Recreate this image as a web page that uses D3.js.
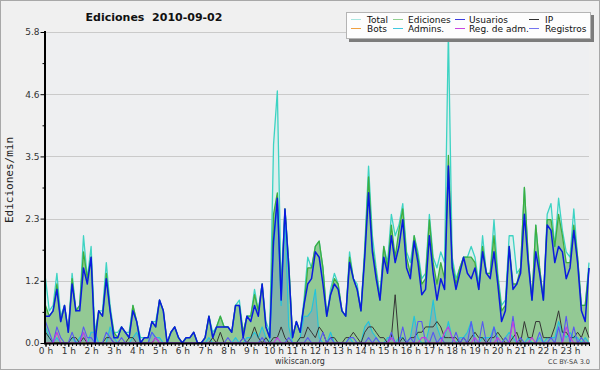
<!DOCTYPE html>
<html><head><meta charset="utf-8">
<script src="https://cdn.jsdelivr.net/npm/d3@7"></script>
<style>html,body{margin:0;padding:0;background:#f0f0f0;} svg{display:block}</style>
</head><body>
<svg id="c" width="600" height="370"></svg>
<script>
const titleText = "Ediciones  2010-09-02";
const yLabelText = "Ediciones/min";
const yMax = 5.8;
const yTickValues = [0, 1.16, 2.32, 3.48, 4.64, 5.8];
const yTickLabels = ["0.0", "1.2", "2.3", "3.5", "4.6", "5.8"];
const hourLabels = ["0 h","1 h","2 h","3 h","4 h","5 h","6 h","7 h","8 h","9 h","10 h","11 h",
  "12 h","13 h","14 h","15 h","16 h","17 h","18 h","19 h","20 h","21 h","22 h","23 h"];
const legendNames = ["Total","Ediciones","Usuarios","IP","Bots","Admins.","Reg. de adm.","Registros"];

// 144 ten-minute slots, edits per minute
const total = [
 1.2,0.6,0.7,1.3,0.5,0.7, 0.2,1.3,0.6,0.7,2.0,1.2, 1.8,0.2,0.6,0.6,1.5,0.7, 0.2,0.2,0.3,0.2,0.2,0.7,
 0.4,0.1,0.1,0.1,0.4,0.4, 0.8,0.6,0.0,0.2,0.3,0.1, 0.0,0.1,0.1,0.2,0.0,0.0, 0.1,0.5,0.2,0.3,0.5,0.3,
 0.3,0.2,0.7,0.8,0.2,0.5, 0.5,1.0,0.6,1.1,0.4,0.2, 3.7,4.7,1.0,2.5,1.5,0.1, 0.4,0.2,0.8,1.6,1.4,1.8,
 1.9,1.4,0.5,1.0,1.3,1.1, 0.6,0.5,1.7,1.2,1.1,0.6, 1.8,3.3,2.0,1.4,0.9,1.8, 1.5,2.4,2.0,2.2,2.6,1.7,
 1.5,2.0,1.7,1.2,1.3,2.4, 1.6,1.4,1.7,1.5,5.8,1.6, 1.2,1.4,1.6,1.6,1.8,1.6, 1.1,2.0,1.3,1.3,2.3,1.3,
 0.7,0.8,2.0,2.0,1.3,1.4, 2.9,1.6,0.8,2.2,1.4,0.8, 2.4,2.6,1.8,2.7,2.1,1.7, 1.6,2.5,1.6,0.7,0.7,1.5];
const ediciones = [
 0.7,0.5,0.6,1.1,0.4,0.7, 0.2,1.2,0.6,0.7,1.7,1.2, 1.6,0.1,0.6,0.5,1.3,0.6, 0.2,0.1,0.3,0.2,0.1,0.7,
 0.4,0.0,0.1,0.1,0.4,0.3, 0.8,0.6,0.0,0.2,0.3,0.1, 0.0,0.1,0.1,0.2,0.0,0.0, 0.1,0.5,0.1,0.3,0.5,0.3,
 0.3,0.2,0.7,0.7,0.2,0.5, 0.5,0.9,0.6,1.1,0.3,0.1, 2.4,2.8,0.9,2.5,1.5,0.1, 0.4,0.2,0.7,1.4,1.4,1.8,
 1.9,1.4,0.5,0.9,1.2,1.1, 0.6,0.5,1.6,1.2,1.0,0.6, 1.7,3.1,1.8,1.3,0.8,1.8, 1.4,2.2,1.6,2.1,2.5,1.6,
 1.3,2.0,1.6,1.1,1.2,2.3, 1.5,1.1,1.5,1.2,3.5,1.5, 1.1,1.4,1.6,1.6,1.6,1.5, 1.0,1.8,1.3,1.3,2.0,1.2,
 0.6,0.7,1.8,1.1,1.1,1.4, 2.9,1.6,0.8,2.2,1.4,0.8, 2.3,2.3,1.8,2.4,2.0,1.5, 1.5,2.2,1.6,0.7,0.7,1.4];
const usuarios = [
 0.5,0.5,0.6,1.0,0.4,0.7, 0.2,1.1,0.6,0.6,1.4,1.1, 1.6,0.0,0.6,0.5,1.2,0.6, 0.1,0.1,0.3,0.2,0.1,0.6,
 0.4,0.0,0.1,0.1,0.4,0.3, 0.8,0.6,0.0,0.2,0.3,0.1, 0.0,0.1,0.1,0.2,0.0,0.0, 0.1,0.5,0.1,0.3,0.3,0.3,
 0.3,0.2,0.7,0.7,0.1,0.5, 0.4,0.7,0.5,1.1,0.3,0.1, 1.9,2.7,0.8,2.5,1.4,0.1, 0.4,0.2,0.7,1.1,1.2,1.7,
 1.6,1.1,0.5,0.9,1.1,1.0, 0.6,0.5,1.5,1.2,1.0,0.6, 1.6,2.8,1.7,1.2,0.8,1.6, 1.3,2.0,1.5,1.8,2.3,1.4,
 1.2,1.9,1.5,0.9,1.0,2.0, 1.3,0.8,1.2,1.0,3.3,1.4, 1.0,1.3,1.6,1.3,1.2,1.4, 1.0,1.7,1.3,1.2,1.7,1.1,
 0.4,0.6,1.8,1.0,1.1,1.3, 2.4,1.5,0.8,1.7,1.3,0.8, 2.2,2.1,1.5,1.8,1.7,1.2, 1.4,2.1,1.5,0.6,0.4,1.4];
const ip = [
 0.2,0.1,0,0,0,0, 0,0.1,0.1,0,0.1,0, 0,0,0,0,0.1,0.1, 0,0,0,0,0.1,0.1,
 0,0,0,0,0,0.1, 0,0,0,0,0,0, 0,0,0,0,0,0, 0,0,0.1,0,0.2,0,
 0,0,0,0,0.1,0, 0.1,0.3,0.1,0,0.1,0, 0.1,0.1,0.3,0.1,0,0, 0,0.1,0.1,0.3,0.2,0.1,
 0.3,0.2,0,0.1,0.1,0, 0,0.1,0.1,0.2,0.1,0, 0.2,0.3,0.3,0.2,0.1,0.1, 0,0.1,0.9,0,0.1,0,
 0.1,0.1,0.2,0.2,0.3,0.3, 0.3,0.4,0.3,0.1,0.1,0.1, 0.1,0,0.1,0,0.1,0.2, 0.1,0.1,0,0.1,0.1,0.2,
 0.1,0,0,0.1,0.2,0, 0.4,0.1,0.1,0.4,0.4,0.1, 0.1,0.1,0.3,0.6,0.2,0.2, 0.1,0.1,0.2,0.1,0.3,0.1];
const bots = [
 0,0,0,0,0,0, 0,0,0,0,0,0, 0,0,0,0,0,0, 0,0,0,0,0,0,
 0,0,0,0,0,0, 0,0,0,0,0,0, 0,0,0,0,0,0, 0,0,0,0,0,0,
 0,0,0,0,0,0, 0,0,0,0,0,0, 0,0,0,0,0,0, 0,0,0,0,0,0,
 0,0,0,0,0,0, 0,0,0,0,0,0, 0,0,0,0,0,0, 0,0,0,0,0,0,
 0,0,0,0,0,0, 0,0,0,0,0,0, 0,0,0,0,0,0, 0,0,0,0,0,0,
 0,0,0,0,0,0, 0,0,0,0,0,0, 0,0,0,0,0,0, 0,0,0,0,0,0];
const admins = [
 0.3,0.1,0,0.1,0,0, 0,0.1,0,0.1,0.2,0, 0.2,0.2,0,0,0,0.3, 0.1,0,0,0,0,0.1,
 0.2,0,0,0,0.2,0.1, 0.1,0,0,0,0,0, 0,0,0,0,0,0, 0,0.1,0,0,0,0,
 0,0,0.1,0,0,0.1, 0.1,0.2,0.1,0.3,0.1,0, 1.8,2.6,0.7,2.4,0.3,0, 0,0.1,0.5,0.5,0.6,1.0,
 0.1,0,0,0.2,0,0, 0,0,0.1,0,0,0, 0.3,0.4,0.2,0.1,0,0, 0.1,0.1,0,0.1,0.1,0,
 0.1,0.5,0.1,0,0,0.3, 0.8,0.3,0.1,0.1,0.4,0.1, 0,0.1,0.1,0.2,0.4,0.1, 0,0.1,0.1,0.1,0.3,0.1,
 0,0.1,0.2,0.1,0,0, 0,0.1,0,0,0.1,0, 0.1,0.1,0.1,0.4,0.2,0.1, 0.2,0.1,0.1,0,0.1,0];
const regAdm = [
 0,0,0,0.2,0,0, 0,0,0,0,0.2,0, 0,0,0,0,0,0, 0,0,0,0,0,0,
 0,0,0,0,0,0.1, 0,0,0,0,0,0, 0,0,0,0,0,0, 0,0,0,0,0,0,
 0,0,0,0,0,0, 0,0,0,0,0,0, 0,0.1,0,0,0,0, 0,0,0,0,0,0,
 0,0,0,0,0,0, 0,0,0,0,0,0, 0,0,0,0,0,0, 0,0.1,0,0,0,0,
 0,0,0,0.1,0.1,0, 0,0,0,0.2,0.3,0.1, 0,0,0,0,0,0.1, 0,0,0,0,0,0.1,
 0,0,0,0.4,0,0, 0,0,0.1,0,0,0, 0,0,0,0,0,0.3, 0.1,0,0,0,0,0];
const registros = [
 0.4,0.2,0,0.3,0.1,0, 0,0.2,0,0,0.3,0.1, 0.1,0,0,0,0.2,0.1, 0,0,0.1,0,0,0,
 0,0,0,0,0.2,0.1, 0,0,0,0,0,0, 0,0,0,0,0,0, 0,0,0,0,0,0,
 0.1,0,0,0,0.1,0, 0,0,0,0.1,0,0, 0,0,0,0,0.1,0, 0,0,0,0.1,0,0,
 0,0.2,0,0.1,0,0, 0,0,0.1,0.1,0,0, 0,0.1,0,0.1,0,0, 0,0.2,0,0,0.3,0,
 0.1,0,0.4,0.4,0,0, 0.2,0,0.1,0,0,0, 0.2,0,0.1,0,0.4,0, 0,0.4,0,0,0.3,0,
 0,0.1,0,0.5,0,0.1, 0,0,0,0,0.2,0, 0,0.1,0,0.3,0,0.5, 0,0.3,0,0.1,0,0];

const svg = d3.select("#c");
const W = 600, H = 370;
const L = 45.5, R = 589, T = 32, B = 343;

svg.append("rect").attr("x",0.5).attr("y",0.5).attr("width",W-1).attr("height",H-1)
  .attr("fill","#f0f0f0").attr("stroke","#a8a8a8");
svg.append("rect").attr("x",L).attr("y",T).attr("width",R-L).attr("height",B-T).attr("fill","#eeeff1");

const x = d3.scaleLinear().domain([0, total.length-1]).range([L, R]);
const y = d3.scaleLinear().domain([0, yMax]).range([B, T]);

// grid
svg.append("g").selectAll("line").data(yTickValues.slice(1)).join("line")
  .attr("x1",L).attr("x2",R).attr("y1",d=>Math.round(y(d))+0.5).attr("y2",d=>Math.round(y(d))+0.5)
  .attr("stroke","#cacaca").attr("stroke-width",1);

const area = arr => d3.area().x((d,i)=>x(i)).y0(B).y1(d=>y(d))(arr);
const line = arr => d3.line().x((d,i)=>x(i)).y(d=>y(d))(arr);

svg.append("path").attr("d",area(total)).attr("fill","#dcefed");
svg.append("path").attr("d",area(ediciones)).attr("fill","#93c994");
svg.append("path").attr("d",area(admins)).attr("fill","rgba(90,130,225,0.28)");

const lines = [
  [total,"#3dd3c3",1.3],
  [ediciones,"#3fae3f",1.3],
  [bots,"#f0a040",1],
  [admins,"#22c4dc",1.1],
  [ip,"#353535",1],
  [registros,"#5858f2",1.1],
  [regAdm,"#c43ae0",1.1],
  [usuarios,"#0a1ae0",1.5]
];
lines.forEach(([arr,c,w])=>{
  svg.append("path").attr("d",line(arr)).attr("fill","none").attr("stroke",c)
    .attr("stroke-width",w).attr("stroke-linejoin","round");
});

// axes
const font = "DejaVu Sans";
const yAxis = svg.append("g").attr("transform",`translate(${L},0)`)
  .call(d3.axisLeft(y).tickValues(yTickValues).tickFormat((d,i)=>yTickLabels[i]).tickSize(5).tickPadding(1));
const yMinor = svg.append("g").attr("transform",`translate(${L},0)`)
  .call(d3.axisLeft(y).tickValues(yTickValues.slice(0,-1).map((d,i)=>(d+yTickValues[i+1])/2)).tickFormat("").tickSize(3));
const xAxis = svg.append("g").attr("transform",`translate(0,${B})`)
  .call(d3.axisBottom(x).tickValues(d3.range(0,total.length,6)).tickFormat((d,i)=>hourLabels[i]).tickSize(4).tickPadding(1));
const xMinor = svg.append("g").attr("transform",`translate(0,${B})`)
  .call(d3.axisBottom(x).tickValues(d3.range(0,total.length)).tickFormat("").tickSize(3));
[yAxis,yMinor,xAxis,xMinor].forEach(g=>{
  g.select(".domain").remove();
  g.selectAll(".tick line").attr("stroke","#000").attr("stroke-width",1);
  g.selectAll("text").attr("font-family",font).attr("font-size",9).attr("fill","#333");
});
svg.append("line").attr("x1",L-0.5).attr("x2",L-0.5).attr("y1",T-1).attr("y2",B+1).attr("stroke","#000").attr("stroke-width",2);
svg.append("line").attr("x1",L-1.5).attr("x2",R+1).attr("y1",B+0.5).attr("y2",B+0.5).attr("stroke","#000").attr("stroke-width",2);

// title and labels
svg.append("text").attr("x",154).attr("y",21).attr("text-anchor","middle")
  .attr("font-family",font).attr("font-weight","bold").attr("font-size",11).attr("fill","#111")
  .style("white-space","pre").text(titleText);
svg.append("text").attr("transform","translate(13,180) rotate(-90)").attr("text-anchor","middle")
  .attr("font-family","DejaVu Sans Mono").attr("font-size",11).attr("fill","#222").text(yLabelText);
svg.append("text").attr("x",300).attr("y",364).attr("text-anchor","middle")
  .attr("font-family",font).attr("font-size",8).attr("fill","#333").text("wikiscan.org");
svg.append("text").attr("x",590).attr("y",364).attr("text-anchor","end")
  .attr("font-family",font).attr("font-size",6.5).attr("fill","#444").text("CC BY-SA 3.0");

// legend
const legendColors = ["#a8e6e0","#90d090","#3c3ce0","#303030","#f0a040","#40c8e0","#c844e0","#7474f0"];
const lg = svg.append("g");
lg.append("rect").attr("x",349).attr("y",15).attr("width",245).attr("height",27).attr("fill","#7c7c7c");
lg.append("rect").attr("x",346.5).attr("y",12.5).attr("width",244).attr("height",26).attr("fill","#fdfdfd").attr("stroke","#b4b4b4");
const colSw = [351, 393, 455, 529], colTx = [367, 408, 469, 545], rowY = [23, 32];
legendNames.forEach((n,i)=>{
  const c = i%4, r = Math.floor(i/4);
  lg.append("line").attr("x1",colSw[c]).attr("x2",colSw[c]+10).attr("y1",rowY[r]-3.5).attr("y2",rowY[r]-3.5)
    .attr("stroke",legendColors[i]).attr("stroke-width",1);
  lg.append("text").attr("x",colTx[c]).attr("y",rowY[r]).attr("font-family",font).attr("font-size",9)
    .attr("fill","#111").text(n);
});
</script>
</body></html>
